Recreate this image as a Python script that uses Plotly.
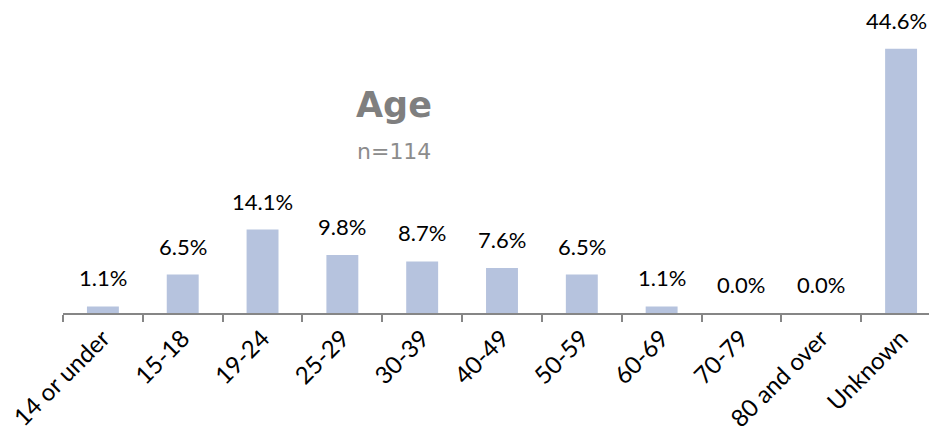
import plotly.graph_objects as go

categories = ["14 or under", "15-18", "19-24", "25-29", "30-39", "40-49",
              "50-59", "60-69", "70-79", "80 and over", "Unknown"]
values = [1.1, 6.5, 14.1, 9.8, 8.7, 7.6, 6.5, 1.1, 0.0, 0.0, 44.6]
title_text = "Age"
subtitle_text = "n=114"

FONT = "Lato, 'Open Sans', sans-serif"

fig = go.Figure()
fig.add_trace(go.Bar(
    x=categories, y=values,
    width=0.4, marker=dict(color="#B6C3DE", line=dict(width=0)),
    hoverinfo="skip",
))

last = len(categories) - 1
for i, (c, v) in enumerate(zip(categories, values)):
    fig.add_annotation(x=c, y=v, text=f"{v:.1f}%", showarrow=False,
                       yanchor="bottom", yshift=13, xshift=(-5 if i == last else 0),
                       font=dict(family=FONT, size=22, color="#000000"))

fig.add_annotation(x=0.379, y=0.682, xref="paper", yref="paper", text=f"<b>{title_text}</b>",
                   showarrow=False, yanchor="middle",
                   font=dict(family="'DejaVu Sans', sans-serif", size=35, color="#7F7F7F"))
fig.add_annotation(x=0.379, y=0.531, xref="paper", yref="paper", text=subtitle_text,
                   showarrow=False, yanchor="middle",
                   font=dict(family="'DejaVu Sans', sans-serif", size=22, color="#8C8C8C"))

# page body has an 8px margin; size the figure so it fills the 937x437 window
fig.update_layout(
    width=929, height=429,
    margin=dict(l=55, r=0, t=0, b=124, autoexpand=False),
    paper_bgcolor="white", plot_bgcolor="white",
    showlegend=False,
    xaxis=dict(
        type="category",
        range=[-0.5, 10.45], automargin=False,
        tickangle=-45, showgrid=False, zeroline=False,
        showline=True, linecolor="#868686", linewidth=1.5,
        ticks="outside", tickson="boundaries", ticklen=7, tickcolor="#868686", tickwidth=1.5,
        tickfont=dict(family=FONT, size=24, color="#000000"),
    ),
    yaxis=dict(range=[0, 51.5], visible=False, showgrid=False, zeroline=False,
               automargin=False),
)

fig.write_html("out.html")
